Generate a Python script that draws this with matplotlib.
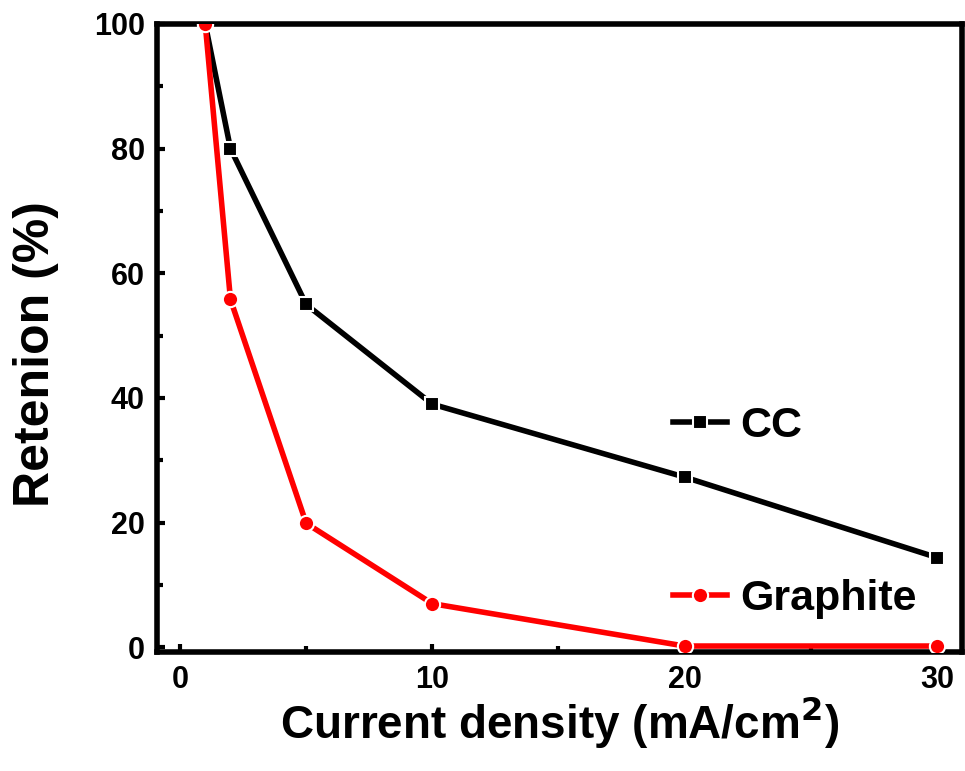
import matplotlib
matplotlib.use("Agg")
import matplotlib.pyplot as plt
from matplotlib.ticker import MultipleLocator

plt.rcParams['font.family'] = ['Liberation Sans', 'DejaVu Sans']
plt.rcParams['font.weight'] = 'bold'

# retention vs current density
current = [1, 2, 5, 10, 20, 30]
cc = [100, 80, 55, 39, 27.3, 14.4]
graphite = [100, 55.8, 19.9, 7.0, 0.2, 0.2]

fig = plt.figure(figsize=(9.65, 7.71), dpi=100)
ax = fig.add_axes([0.163, 0.154, 0.834, 0.815])

ax.plot(current, cc, color='black', lw=4, marker='s', ms=10,
        mfc='black', mec='white', mew=1.5, label='CC', zorder=3)
ax.plot(current, graphite, color='#ff0000', lw=4, marker='o', ms=11,
        mfc='#ff0000', mec='white', mew=1.5, label='Graphite', zorder=3)

ax.set_xlim(-0.9, 31)
ax.set_ylim(-0.8, 100)
ax.xaxis.set_major_locator(MultipleLocator(10))
ax.xaxis.set_minor_locator(MultipleLocator(5))
ax.yaxis.set_major_locator(MultipleLocator(20))
ax.yaxis.set_minor_locator(MultipleLocator(10))
ax.tick_params(which='major', direction='in', length=6, width=3,
               labelsize=22, pad=9)
ax.tick_params(which='minor', direction='in', length=4, width=3)
for lbl in ax.get_xticklabels() + ax.get_yticklabels():
    lbl.set_fontweight('bold')
for sp in ax.spines.values():
    sp.set_linewidth(4)

ax.set_xlabel('Current density (mA/cm$^\\mathbf{2}$)', fontsize=33,
              fontweight='bold')
ax.set_ylabel('Retenion (%)', fontsize=36, fontweight='bold')
ax.xaxis.set_label_coords(0.5, -0.066)
ax.yaxis.set_label_coords(-0.122, 0.475)

leg = ax.legend(loc='lower left', bbox_to_anchor=(0.62, 0.025), frameon=False,
                prop={'size': 31, 'weight': 'bold'}, labelspacing=3.1,
                handlelength=1.25, handletextpad=0.3, borderaxespad=0)
for h in leg.legend_handles:
    h.set_linewidth(4)

fig.savefig('out.png', dpi=100)
